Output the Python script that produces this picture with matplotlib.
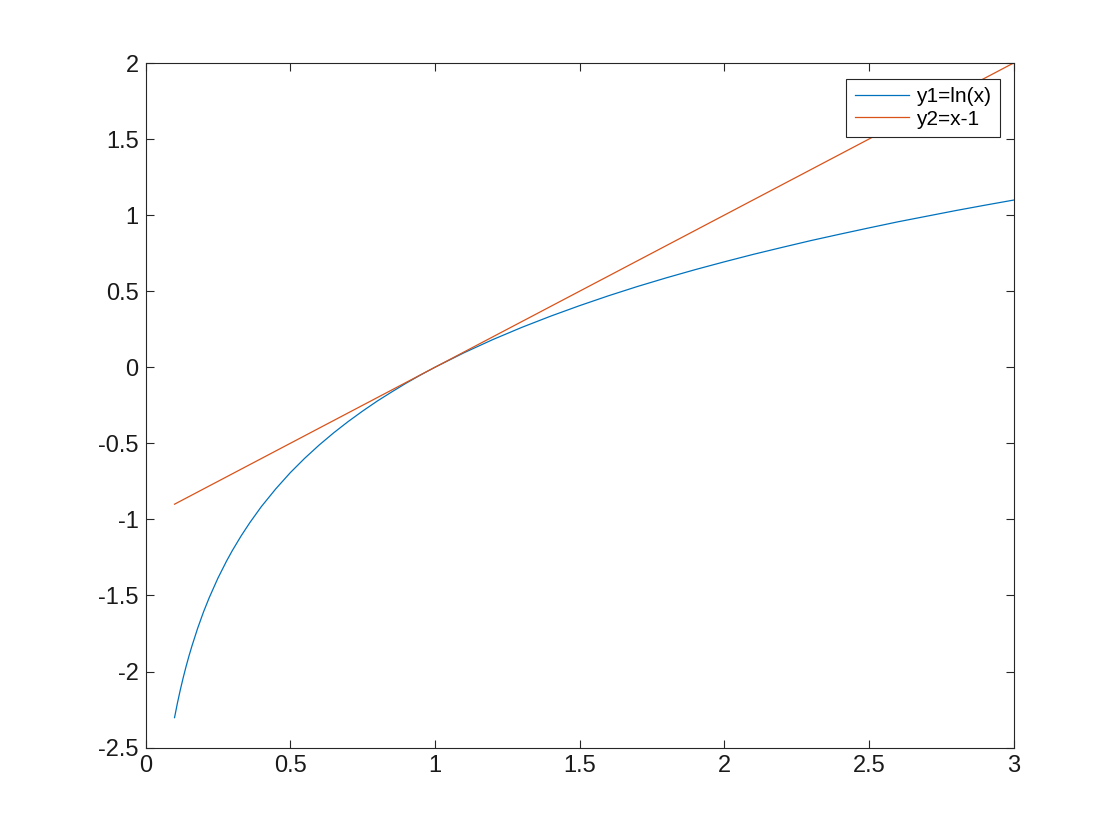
import matplotlib.pyplot as plt

plt.rcParams['font.family'] = ['Liberation Sans', 'DejaVu Sans']

# values
x1 = [0.1, 0.11, 0.12, 0.13, 0.14, 0.15, 0.16, 0.18, 0.2, 0.22, 0.25, 0.28, 0.3, 0.33,
      0.36, 0.4, 0.45, 0.5, 0.55, 0.6, 0.65, 0.7, 0.75, 0.8, 0.85, 0.9, 0.95, 1.0,
      1.1, 1.2, 1.3, 1.4, 1.5, 1.6, 1.7, 1.8, 1.9, 2.0, 2.1, 2.2, 2.3, 2.4, 2.5,
      2.6, 2.7, 2.8, 2.9, 3.0]
y1 = [-2.303, -2.207, -2.120, -2.040, -1.966, -1.897, -1.833, -1.715, -1.609, -1.514,
      -1.386, -1.273, -1.204, -1.109, -1.022, -0.916, -0.799, -0.693, -0.598, -0.511,
      -0.431, -0.357, -0.288, -0.223, -0.163, -0.105, -0.051, 0.0,
      0.095, 0.182, 0.262, 0.336, 0.405, 0.470, 0.531, 0.588, 0.642, 0.693, 0.742,
      0.788, 0.833, 0.875, 0.916, 0.956, 0.993, 1.030, 1.065, 1.099]
x2 = [0.1, 3.0]
y2 = [-0.9, 2.0]

fig = plt.figure(figsize=(11.2, 8.4), dpi=100)
ax = fig.add_axes([0.13, 0.11, 0.775, 0.815])
ax.plot(x1, y1, color='#0072BD', lw=0.9, label='y1=ln(x)')
ax.plot(x2, y2, color='#D95319', lw=0.9, label='y2=x-1')

ax.set_xlim(0, 3)
ax.set_ylim(-2.5, 2)
ax.set_xticks([0, 0.5, 1, 1.5, 2, 2.5, 3])
ax.set_xticklabels(['0', '0.5', '1', '1.5', '2', '2.5', '3'])
ax.set_yticks([-2.5, -2, -1.5, -1, -0.5, 0, 0.5, 1, 1.5, 2])
ax.set_yticklabels(['-2.5', '-2', '-1.5', '-1', '-0.5', '0', '0.5', '1', '1.5', '2'])
ax.tick_params(direction='in', length=6, width=0.8, top=True, right=True,
               labelsize=17, colors='#262626', pad=5)
ax.tick_params(labelcolor='#1a1a1a')
for s in ax.spines.values():
    s.set_color('#262626')
    s.set_linewidth(0.8)

leg = ax.legend(loc='upper right', bbox_to_anchor=(0.984, 0.977), borderaxespad=0,
                fontsize=15, fancybox=False, framealpha=1, edgecolor='#262626',
                handlelength=2.6, borderpad=0.42, labelspacing=0.15, handletextpad=0.35)
leg.get_frame().set_linewidth(0.8)

fig.savefig('out.png')
